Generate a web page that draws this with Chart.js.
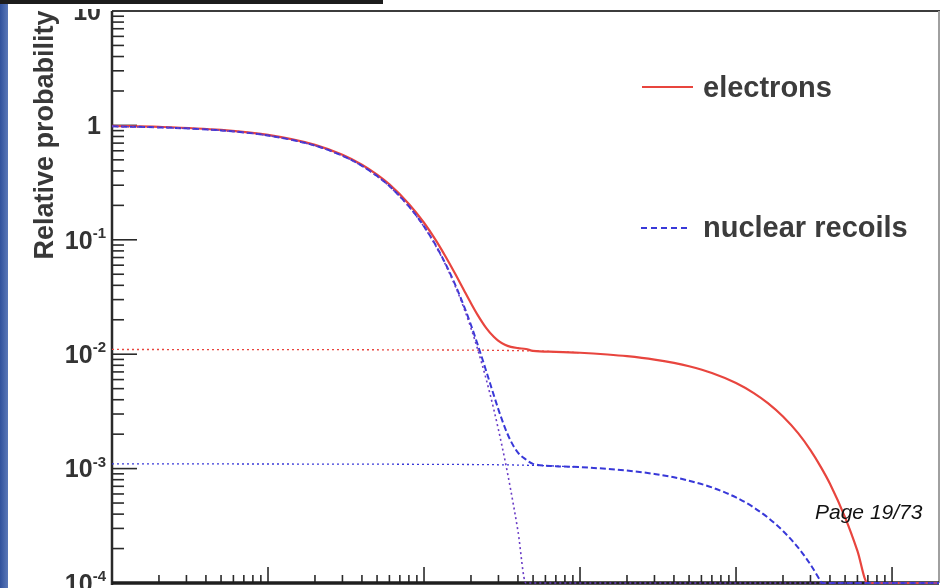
<!DOCTYPE html>
<html>
<head>
<meta charset="utf-8">
<script src="https://cdn.jsdelivr.net/npm/chart.js@4"></script>
<style>
  html, body { margin: 0; padding: 0; background: #fff; }
  #wrap { position: relative; width: 944px; height: 588px; overflow: hidden; background: #fff; }
  #side { position: absolute; left: 0; top: 0; width: 8px; height: 588px; background: linear-gradient(90deg, #30519c, #5a78b8); }
  #bar { position: absolute; left: 0; top: 0; width: 383px; height: 4px; background: #1c1c1c; }
  canvas { position: absolute; left: 0; top: 0; }
</style>
</head>
<body>
<div id="wrap">
  <canvas id="c" width="944" height="588"></canvas>
  <div id="side"></div>
  <div id="bar"></div>
</div>
<script>
// Time samples (ns) and relative probabilities for each curve
const fastTime = [0.1, 0.2, 0.5, 1, 2, 3, 4, 5, 6, 8, 10, 12, 14, 16, 18, 20, 22, 25, 28, 30, 33, 36, 40, 45, 20000];
const fastProb = [0.980, 0.960, 0.903, 0.815, 0.665, 0.542, 0.442, 0.360, 0.294, 0.195, 0.130, 0.0864, 0.0574, 0.0382, 0.0254, 0.0169, 0.0112, 0.00608, 0.00330, 0.00219, 0.00119, 0.000645, 0.000285, 0.0001, 0.0001];

const electronTime = [0.1, 0.2, 0.5, 1, 2, 3, 4, 5, 6, 8, 10, 12, 14, 16, 18, 20, 22, 25, 28, 30, 33, 36, 40, 45, 50, 70, 100, 150, 200, 300, 400, 500, 700, 1000, 1300, 1600, 2000, 2500, 3000, 3500, 4000, 5000, 6000, 6970, 20000];
const electronProb = [0.991, 0.971, 0.914, 0.826, 0.676, 0.553, 0.453, 0.371, 0.305, 0.206, 0.141, 0.0974, 0.0683, 0.0492, 0.0364, 0.0279, 0.0222, 0.0170, 0.0142, 0.0131, 0.0121, 0.0116, 0.0113, 0.0111, 0.0107, 0.0105, 0.0103, 0.00994, 0.00961, 0.00898, 0.00839, 0.00784, 0.00685, 0.00560, 0.00457, 0.00373, 0.00285, 0.00204, 0.00145, 0.00103, 0.000737, 0.000375, 0.000191, 0.0001, 0.0001];

const recoilTime = [0.1, 0.2, 0.5, 1, 2, 3, 4, 5, 6, 8, 10, 12, 14, 16, 18, 20, 22, 25, 28, 30, 33, 36, 40, 45, 50, 70, 100, 150, 200, 300, 400, 500, 700, 1000, 1300, 1600, 2000, 2500, 3000, 3500, 3550, 20000];
const recoilProb = [0.981, 0.961, 0.904, 0.816, 0.666, 0.543, 0.443, 0.361, 0.295, 0.196, 0.131, 0.0875, 0.0585, 0.0393, 0.0265, 0.0180, 0.0123, 0.00717, 0.00439, 0.00328, 0.00228, 0.00174, 0.00138, 0.00120, 0.00110, 0.00105, 0.00103, 0.000994, 0.000961, 0.000898, 0.000839, 0.000784, 0.000685, 0.000560, 0.000457, 0.000373, 0.000285, 0.000204, 0.000145, 0.000103, 0.0001, 0.0001];

// Slow (long-lived) components
const electronSlowTime = [0.1, 10, 30, 60, 100];
const electronSlowProb = [0.0110, 0.0109, 0.0108, 0.0106, 0.0103];
const recoilSlowTime = [0.1, 10, 30, 60, 100];
const recoilSlowProb = [0.00110, 0.00109, 0.00108, 0.00106, 0.00103];

// Axis ranges and tick labels
const xRange = [0.1, 20000];
const yRange = [0.0001, 10];
const xDecades = [-1, 0, 1, 2, 3, 4];
const yDecades = [-4, -3, -2, -1, 0, 1];
const yTickLabels = ['10^-4', '10^-3', '10^-2', '10^-1', '1', '10'];
const yTitle = 'Relative probability';
const seriesNames = ['electrons', 'nuclear recoils'];
const pageLabel = 'Page 19/73';

const pts = (xs, ys) => xs.map((x, i) => ({ x: x, y: ys[i] }));

const RED = '#e8453e';
const BLUE = '#3838d8';
const PURPLE = '#6a3cc6';

const framePlugin = {
  id: 'frame',
  beforeDatasetsDraw(chart) {
    const { ctx, chartArea: a, scales: { x, y } } = chart;
    ctx.save();
    ctx.strokeStyle = '#2a2a2a';
    ctx.lineWidth = 1.6;
    // y ticks point into the plot
    for (const d of yDecades) {
      for (let k = 1; k <= 9; k++) {
        const v = k * Math.pow(10, d);
        if (v < yRange[0] || v > yRange[1]) continue;
        const py = y.getPixelForValue(v);
        const len = k === 1 ? 25 : 12;
        ctx.beginPath(); ctx.moveTo(a.left, py); ctx.lineTo(a.left + len, py); ctx.stroke();
      }
    }
    // x ticks point up
    for (const d of xDecades) {
      for (let k = 1; k <= 9; k++) {
        const v = k * Math.pow(10, d);
        if (v < xRange[0] || v > xRange[1]) continue;
        const px = x.getPixelForValue(v);
        const len = k === 1 ? 16 : 8;
        ctx.beginPath(); ctx.moveTo(px, a.bottom); ctx.lineTo(px, a.bottom - len); ctx.stroke();
      }
    }
    // frame
    ctx.strokeStyle = '#3c3c3c'; ctx.lineWidth = 2;
    ctx.beginPath(); ctx.moveTo(a.left, a.top); ctx.lineTo(a.right + 1, a.top); ctx.stroke();
    ctx.strokeStyle = '#a0a0a0'; ctx.lineWidth = 2;
    ctx.beginPath(); ctx.moveTo(a.right, a.top); ctx.lineTo(a.right, a.bottom); ctx.stroke();
    ctx.strokeStyle = '#2a2a2a'; ctx.lineWidth = 2.5;
    ctx.beginPath(); ctx.moveTo(a.left, a.top); ctx.lineTo(a.left, a.bottom + 2); ctx.stroke();
    ctx.strokeStyle = '#1e1e1e'; ctx.lineWidth = 3.5;
    ctx.beginPath(); ctx.moveTo(a.left, a.bottom); ctx.lineTo(a.right, a.bottom); ctx.stroke();
    ctx.restore();
  },
  afterDraw(chart) {
    const { ctx, scales: { y } } = chart;
    ctx.save();
    // y tick labels with exponents
    ctx.beginPath(); ctx.rect(0, 9, chart.width, chart.height); ctx.clip();
    ctx.fillStyle = '#333';
    yDecades.forEach((d, i) => {
      const py = y.getPixelForValue(Math.pow(10, d));
      const [base, exp] = yTickLabels[i].split('^');
      let right = 101;
      ctx.textBaseline = 'middle';
      if (exp) {
        ctx.font = 'bold 15px "Liberation Sans", Arial, sans-serif';
        const w = ctx.measureText(exp).width;
        right = 106;
        ctx.textAlign = 'left';
        ctx.fillText(exp, right - w, py - 6);
        right -= w;
      }
      ctx.font = 'bold 25px "Liberation Sans", Arial, sans-serif';
      ctx.textAlign = 'right';
      ctx.fillText(base, right, py + 2);
    });
    ctx.restore();

    ctx.save();
    // axis title
    ctx.fillStyle = '#383838';
    ctx.font = 'bold 27px "Liberation Sans", Arial, sans-serif';
    ctx.translate(53, 135);
    ctx.rotate(-Math.PI / 2);
    ctx.textAlign = 'center';
    ctx.textBaseline = 'alphabetic';
    ctx.fillText(yTitle, 0, 0);
    ctx.restore();

    ctx.save();
    // legend
    ctx.lineWidth = 2.2; ctx.strokeStyle = RED;
    ctx.beginPath(); ctx.moveTo(642, 87); ctx.lineTo(693, 87); ctx.stroke();
    ctx.lineWidth = 1.8; ctx.strokeStyle = BLUE; ctx.setLineDash([6, 4]);
    ctx.beginPath(); ctx.moveTo(641, 228); ctx.lineTo(690, 228); ctx.stroke();
    ctx.setLineDash([]);
    ctx.fillStyle = '#3c3c3c';
    ctx.font = 'bold 29px "Liberation Sans", Arial, sans-serif';
    ctx.textAlign = 'left'; ctx.textBaseline = 'alphabetic';
    ctx.fillText(seriesNames[0], 703, 97);
    ctx.fillText(seriesNames[1], 703, 237);
    // page number
    ctx.fillStyle = '#111';
    ctx.font = 'italic 21px "Liberation Sans", Arial, sans-serif';
    ctx.fillText(pageLabel, 815, 519);
    ctx.restore();
  }
};

const lineBase = { fill: false, pointRadius: 0, cubicInterpolationMode: 'monotone', clip: 3 };

new Chart(document.getElementById('c'), {
  type: 'line',
  data: {
    datasets: [
      Object.assign({}, lineBase, { label: 'fast component', data: pts(fastTime, fastProb), borderColor: PURPLE, borderWidth: 1.6, borderDash: [2, 3], order: 1 }),
      Object.assign({}, lineBase, { label: seriesNames[1], data: pts(recoilTime, recoilProb), borderColor: BLUE, borderWidth: 2, borderDash: [6, 3], order: 2 }),
      Object.assign({}, lineBase, { label: seriesNames[0], data: pts(electronTime, electronProb), borderColor: RED, borderWidth: 2.2, order: 3 }),
      Object.assign({}, lineBase, { label: 'electrons slow', data: pts(electronSlowTime, electronSlowProb), borderColor: RED, borderWidth: 1.3, borderDash: [2, 3], order: 4 }),
      Object.assign({}, lineBase, { label: 'recoils slow', data: pts(recoilSlowTime, recoilSlowProb), borderColor: BLUE, borderWidth: 1.3, borderDash: [2, 3], order: 5 })
    ]
  },
  options: {
    responsive: false,
    animation: false,
    layout: { padding: { left: 112, right: 5, top: 11, bottom: 5 } },
    plugins: { legend: { display: false }, tooltip: { enabled: false }, title: { display: false } },
    scales: {
      x: { type: 'logarithmic', min: xRange[0], max: xRange[1], display: false },
      y: { type: 'logarithmic', min: yRange[0], max: yRange[1], display: false }
    }
  },
  plugins: [framePlugin]
});
</script>
</body>
</html>
